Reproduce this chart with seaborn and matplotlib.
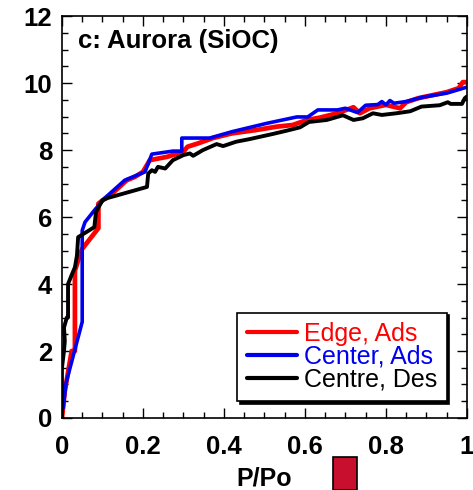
import matplotlib
matplotlib.use("Agg")
import matplotlib.pyplot as plt
from matplotlib.patches import Rectangle
from matplotlib.ticker import MultipleLocator
import pandas as pd
import seaborn as sns

# Isotherm branches: relative pressure P/Po vs adsorbed amount
edge_ads_x = [0, 0.007, 0.024, 0.032, 0.032, 0.045, 0.05, 0.09, 0.09, 0.10, 0.12, 0.16,
              0.18, 0.20, 0.217, 0.26, 0.30, 0.31, 0.336, 0.373, 0.42, 0.48, 0.53, 0.57,
              0.605, 0.637, 0.68, 0.72, 0.736, 0.76, 0.80, 0.835, 0.85, 0.88, 0.95, 0.98,
              0.99, 1.0]
edge_ads_y = [0, 0.8, 2.0, 2.0, 4.4, 4.9, 5.05, 5.67, 6.4, 6.5, 6.66, 7.1,
              7.2, 7.35, 7.7, 7.8, 7.95, 8.1, 8.2, 8.36, 8.5, 8.6, 8.7, 8.75,
              8.9, 8.97, 9.1, 9.28, 9.1, 9.25, 9.35, 9.25, 9.43, 9.55, 9.73, 9.85,
              10.03, 10.03]

center_ads_x = [0.003, 0.01, 0.05, 0.05, 0.057, 0.08, 0.106, 0.155, 0.205, 0.222, 0.274,
                0.296, 0.296, 0.365, 0.42, 0.506, 0.58, 0.607, 0.632, 0.68, 0.70, 0.73,
                0.75, 0.78, 0.79, 0.80, 0.81, 0.82, 0.85, 0.89, 0.95, 1.0]
center_ads_y = [0.3, 1.04, 2.87, 5.6, 5.85, 6.2, 6.57, 7.1, 7.35, 7.88, 7.97,
                7.97, 8.36, 8.36, 8.55, 8.8, 8.99, 8.99, 9.2, 9.2, 9.25, 9.12,
                9.34, 9.36, 9.45, 9.35, 9.48, 9.4, 9.45, 9.58, 9.7, 9.88]

centre_des_x = [0, 0, 0.005, 0.007, 0.005, 0.012, 0.015, 0.015, 0.025, 0.032, 0.037, 0.04,
                0.08, 0.084, 0.10, 0.113, 0.21, 0.213, 0.222, 0.23, 0.237, 0.255, 0.274,
                0.30, 0.316, 0.324, 0.348, 0.382, 0.398, 0.43, 0.464, 0.49, 0.52, 0.555,
                0.588, 0.61, 0.654, 0.694, 0.72, 0.743, 0.768, 0.79, 0.826, 0.86, 0.888,
                0.933, 0.953, 0.96, 0.988, 0.995, 1.0]
centre_des_y = [0, 1.5, 2.0, 2.3, 2.7, 3.0, 3.0, 4.0, 4.3, 4.5, 4.85, 5.4,
                5.7, 6.15, 6.5, 6.57, 6.9, 7.3, 7.4, 7.35, 7.5, 7.45, 7.7,
                7.85, 7.9, 7.83, 8.0, 8.18, 8.12, 8.25, 8.33, 8.4, 8.48, 8.58,
                8.68, 8.84, 8.9, 9.04, 8.9, 8.95, 9.1, 9.05, 9.1, 9.16, 9.3,
                9.34, 9.43, 9.38, 9.38, 9.55, 9.6]

series_labels = ["Edge, Ads", "Center, Ads", "Centre, Des"]
series_colors = ["#ff0000", "#0000ee", "#000000"]
x_ticks = [0, 0.2, 0.4, 0.6, 0.8, 1.0]
x_tick_labels = ["0", "0.2", "0.4", "0.6", "0.8", "1"]
y_ticks = [0, 2, 4, 6, 8, 10, 12]

sns.set_style("ticks")
plt.rcParams["font.family"] = ["Liberation Sans", "DejaVu Sans"]
plt.rcParams["text.color"] = "black"
plt.rcParams["axes.labelcolor"] = "black"
plt.rcParams["xtick.color"] = "black"
plt.rcParams["ytick.color"] = "black"

fig = plt.figure(figsize=(4.73, 4.90), dpi=100)
ax = fig.add_axes([0.131, 0.147, 0.856, 0.820])

frames = [
    pd.DataFrame({"P": edge_ads_x, "V": edge_ads_y}),
    pd.DataFrame({"P": center_ads_x, "V": center_ads_y}),
    pd.DataFrame({"P": centre_des_x, "V": centre_des_y}),
]
widths = [3.4, 2.6, 2.8]
for df, lab, col, lw in zip(frames, series_labels, series_colors, widths):
    sns.lineplot(data=df, x="P", y="V", sort=False, estimator=None, ax=ax,
                 color=col, linewidth=lw, label=lab)

ax.set_xlim(0, 1)
ax.set_ylim(0, 12)
ax.set_xticks(x_ticks)
ax.set_xticklabels(x_tick_labels)
ax.set_yticks(y_ticks)
ax.xaxis.set_minor_locator(MultipleLocator(0.05))
ax.yaxis.set_minor_locator(MultipleLocator(0.5))
ax.tick_params(which="both", direction="in", top=True, right=True, width=1.0,
               color="black", labelcolor="black")
ax.tick_params(which="major", length=7)
ax.tick_params(which="minor", length=4)
ax.tick_params(axis="x", which="major", pad=12)
ax.tick_params(axis="y", which="major", pad=7)
for lbl in ax.get_xticklabels() + ax.get_yticklabels():
    lbl.set_fontsize(18.5)
    lbl.set_fontweight("bold")
for sp in ax.spines.values():
    sp.set_linewidth(1.2)
    sp.set_color("black")

ax.set_xlabel("P/Po", fontsize=18, fontweight="bold", labelpad=6, color="black")
ax.set_ylabel("")

ax.text(0.04, 0.92, "c: Aurora (SiOC)", transform=ax.transAxes,
        fontsize=18.5, fontweight="bold", va="baseline", ha="left", color="black")

leg = ax.legend(loc="lower right", bbox_to_anchor=(0.95, 0.042), borderaxespad=0,
                fontsize=18, handlelength=2.0, handletextpad=0.28, labelspacing=-0.05,
                borderpad=0.38, fancybox=False, framealpha=1, edgecolor="black",
                shadow={"color": "black", "alpha": 1, "ox": 2, "oy": -2})
leg.get_frame().set_linewidth(1.2)
for txt, col in zip(leg.get_texts(), series_colors):
    txt.set_color(col)
for line in leg.get_lines():
    line.set_linewidth(3)

# small filled marker box below the axis
fig.patches.append(Rectangle((0.704, 0.0), 0.0507, 0.067, transform=fig.transFigure,
                             facecolor="#c8102e", edgecolor="black", linewidth=1.2))

fig.savefig("out.png", dpi=100)
